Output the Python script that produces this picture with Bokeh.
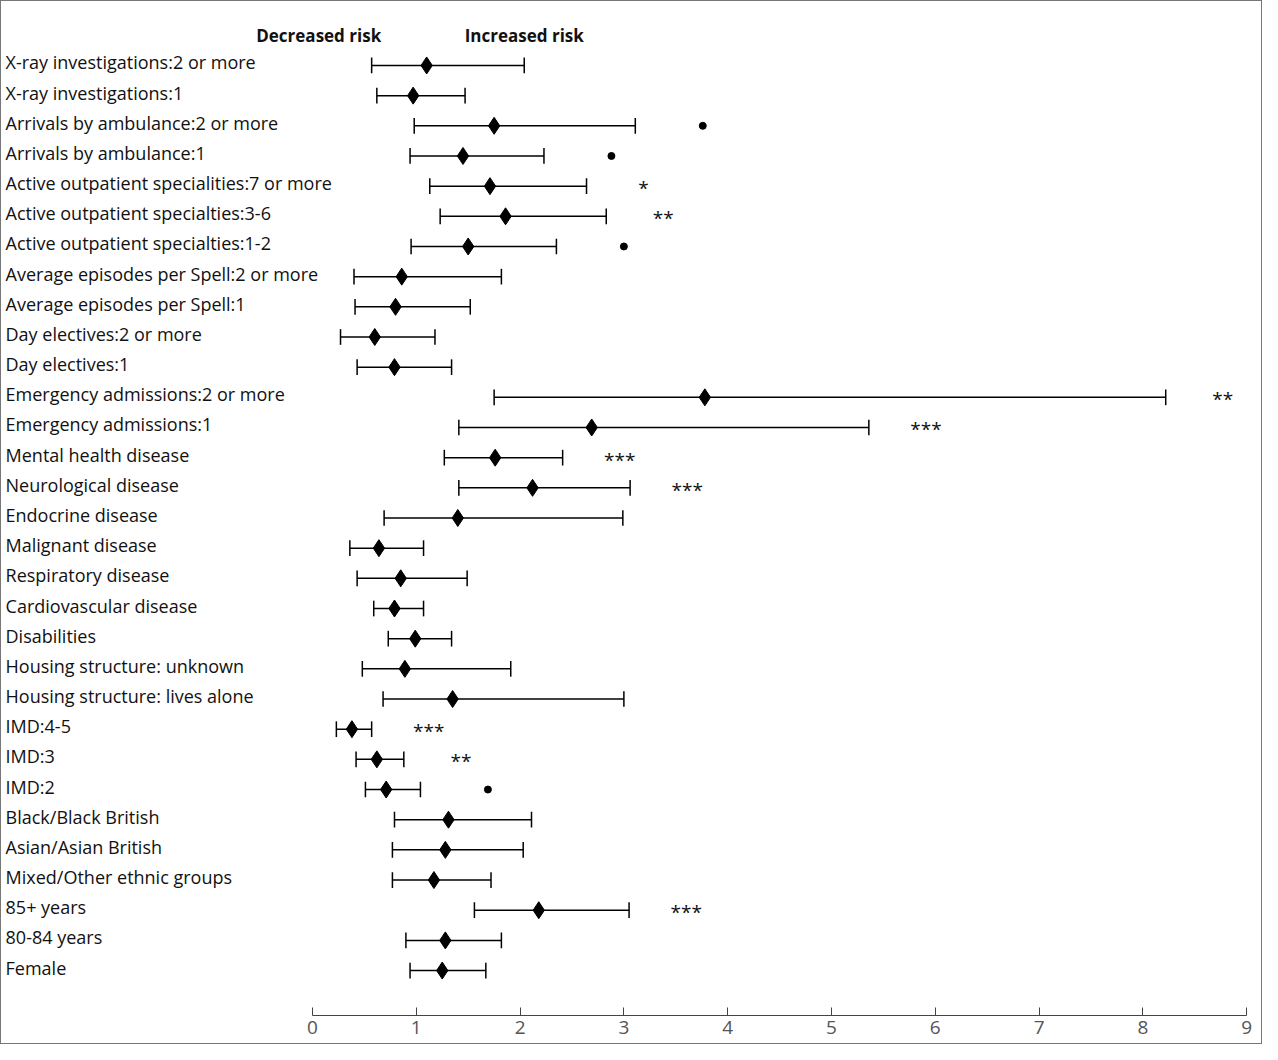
from bokeh.plotting import figure
from bokeh.models import Range1d, LinearAxis, FixedTicker, ColumnDataSource
from bokeh.core.properties import value
from bokeh.embed import file_html
from bokeh.resources import INLINE

labels = [
    "X-ray investigations:2 or more", "X-ray investigations:1",
    "Arrivals by ambulance:2 or more", "Arrivals by ambulance:1",
    "Active outpatient specialities:7 or more", "Active outpatient specialties:3-6",
    "Active outpatient specialties:1-2", "Average episodes per Spell:2 or more",
    "Average episodes per Spell:1", "Day electives:2 or more", "Day electives:1",
    "Emergency admissions:2 or more", "Emergency admissions:1",
    "Mental health disease", "Neurological disease", "Endocrine disease",
    "Malignant disease", "Respiratory disease", "Cardiovascular disease",
    "Disabilities", "Housing structure: unknown", "Housing structure: lives alone",
    "IMD:4-5", "IMD:3", "IMD:2", "Black/Black British", "Asian/Asian British",
    "Mixed/Other ethnic groups", "85+ years", "80-84 years", "Female",
]
lower = [0.57, 0.62, 0.98, 0.94, 1.13, 1.23, 0.95, 0.40, 0.41, 0.27, 0.43,
         1.75, 1.41, 1.27, 1.41, 0.69, 0.36, 0.43, 0.59, 0.73, 0.48, 0.68,
         0.23, 0.42, 0.51, 0.79, 0.77, 0.77, 1.56, 0.90, 0.94]
estimate = [1.10, 0.97, 1.75, 1.45, 1.71, 1.86, 1.50, 0.86, 0.80, 0.60, 0.79,
            3.78, 2.69, 1.76, 2.12, 1.40, 0.64, 0.85, 0.79, 0.99, 0.89, 1.35,
            0.38, 0.62, 0.71, 1.31, 1.28, 1.17, 2.18, 1.28, 1.25]
upper = [2.04, 1.47, 3.11, 2.23, 2.64, 2.83, 2.35, 1.82, 1.52, 1.18, 1.34,
         8.22, 5.36, 2.41, 3.06, 2.99, 1.07, 1.49, 1.07, 1.34, 1.91, 3.00,
         0.57, 0.88, 1.04, 2.11, 2.03, 1.72, 3.05, 1.82, 1.67]
signif = ["", "", ".", ".", "*", "**", ".", "", "", "", "", "**", "***",
          "***", "***", "", "", "", "", "", "", "", "***", "**", ".", "", "",
          "", "***", "", ""]
ticks = [0, 1, 2, 3, 4, 5, 6, 7, 8, 9]

ys = [-i for i in range(len(labels))]
star_x = [u + 0.55 for u in upper]
cap = 0.26

p = figure(width=1262, height=1044, output_backend="svg", toolbar_location=None,
           x_range=Range1d(-2.996, 9.162), y_range=Range1d(-31.49, 2.12),
           min_border_left=0, min_border_right=0, min_border_top=0,
           min_border_bottom=30, x_axis_location=None, y_axis_location=None)
p.grid.visible = False
p.outline_line_color = None
p.styles = {"border": "1px solid #777"}

src = ColumnDataSource(dict(y=ys, lo=lower, est=estimate, hi=upper, lab=labels,
                            y0=[y - cap for y in ys], y1=[y + cap for y in ys]))
p.segment("lo", "y", "hi", "y", source=src, color="black", line_width=1.5)
p.segment("lo", "y0", "lo", "y1", source=src, color="black", line_width=1.5)
p.segment("hi", "y0", "hi", "y1", source=src, color="black", line_width=1.5)
p.scatter("est", "y", source=src, marker="diamond", size=17, color="black")
p.text(x=-2.957, y="y", text="lab", source=src, text_font=value("Open Sans"),
       text_font_size="18px", text_baseline="middle", y_offset=-3, text_color="#111")

sx = [star_x[i] for i in range(len(signif)) if signif[i] not in ("", ".")]
sy = [ys[i] for i in range(len(signif)) if signif[i] not in ("", ".")]
st = [s for s in signif if s not in ("", ".")]
p.text(x=sx, y=sy, text=st, text_font=value("Open Sans"), text_font_size="19px",
       text_baseline="middle", text_align="center", text_color="#111", y_offset=2)
dx = [star_x[i] + 0.1 for i in range(len(signif)) if signif[i] == "."]
dy = [ys[i] for i in range(len(signif)) if signif[i] == "."]
p.scatter(dx, dy, size=7, color="black")

p.text(x=[0.06, 2.04], y=[1.0, 1.0], text=["Decreased risk", "Increased risk"],
       text_font=value("Open Sans"), text_font_style="bold", text_font_size="17px",
       text_baseline="middle", text_align="center", text_color="#111")

ax = LinearAxis(ticker=FixedTicker(ticks=ticks), bounds=(0, 9))
ax.major_tick_in = 8
ax.major_tick_out = 0
ax.minor_tick_line_color = None
ax.axis_line_color = "#444"
ax.major_tick_line_color = "#444"
ax.major_label_text_font = "Open Sans"
ax.major_label_text_font_size = "19px"
ax.major_label_text_color = "#555"
p.add_layout(ax, "below")

open("out.html", "w").write(file_html(p, INLINE))
